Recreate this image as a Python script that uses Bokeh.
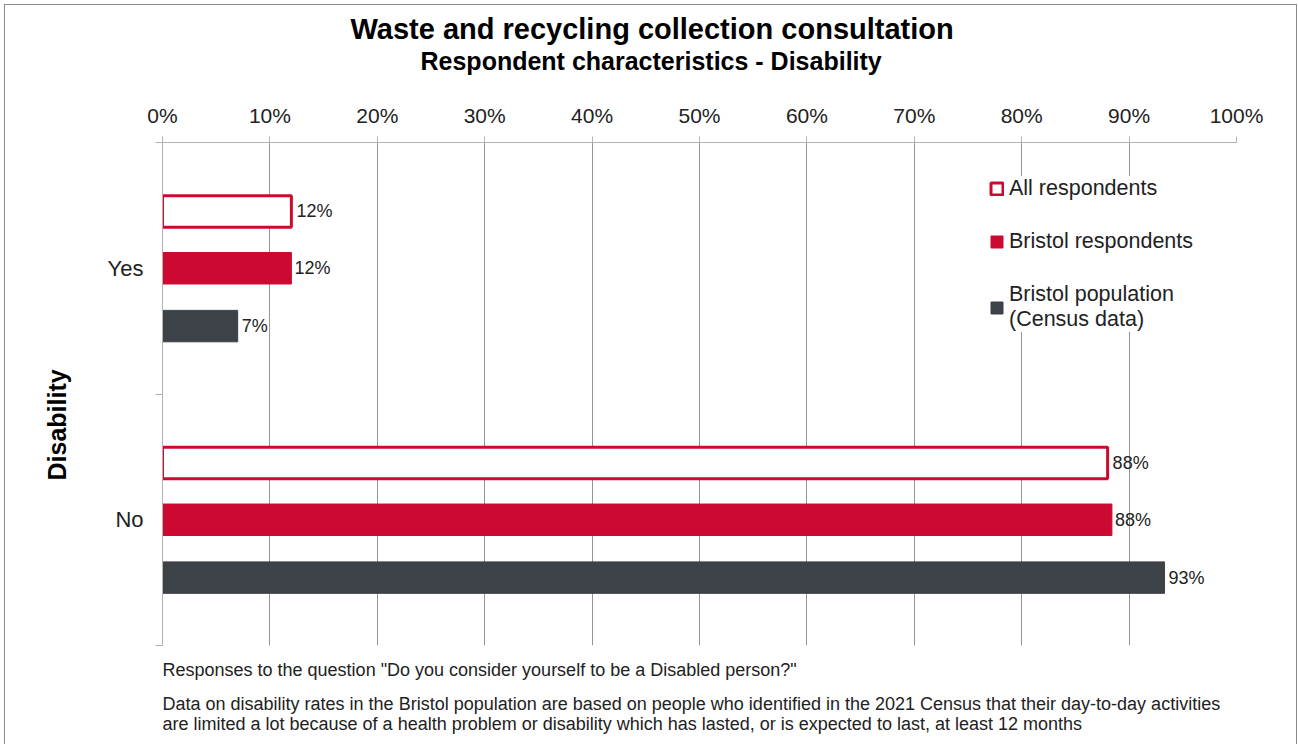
from bokeh.plotting import figure
from bokeh.models import (Range1d, FixedTicker, PrintfTickFormatter, Legend,
                          LegendItem, ColumnDataSource, Title)
from bokeh.core.properties import value
from bokeh.embed import file_html
from bokeh.resources import INLINE

# ---------------- data ----------------
categories = ["Yes", "No"]
series_names = ["All respondents", "Bristol respondents", "Bristol population\n(Census data)"]
all_respondents = [12.0, 88.0]
bristol_respondents = [12.0, 88.4]
bristol_population = [7.0, 93.3]
x_ticks = [0, 10, 20, 30, 40, 50, 60, 70, 80, 90, 100]

title = "Waste and recycling collection consultation"
subtitle = "Respondent characteristics - Disability"
axis_title = "Disability"
note1 = 'Responses to the question "Do you consider yourself to be a Disabled person?"'
note2 = ("Data on disability rates in the Bristol population are based on people who identified "
         "in the 2021 Census that their day-to-day activities")
note3 = ("are limited a lot because of a health problem or disability which has lasted, "
         "or is expected to last, at least 12 months")

RED = "#CC0A31"
DARK = "#3D4148"
AXIS = "#B3B3B3"
GRID = "#959595"
TEXT = "#222222"
FONT = "Liberation Sans"

# category centres on a numeric axis: first category at top
n = len(categories)
centers = [n - i - 0.5 for i in range(n)]
bar_h = 0.125
offsets = [0.226, 0.0, -0.23]

p = figure(width=1291, height=739, output_backend="svg", toolbar_location=None,
           x_range=Range1d(0, 100), y_range=Range1d(0, n),
           x_axis_location="above",
           min_border_left=157, min_border_right=60, min_border_top=137, min_border_bottom=99)
p.margin = (5, 2, 0, 5)
p.styles = {"outline": "1px solid #8C8C8C"}
p.outline_line_color = None
p.background_fill_color = "white"
p.border_fill_color = "white"

# x axis (top)
xa = p.xaxis[0]
xa.ticker = FixedTicker(ticks=x_ticks)
xa.formatter = PrintfTickFormatter(format="%d%%")
xa.major_label_text_font = FONT
xa.major_label_text_font_size = "21px"
xa.major_label_text_color = TEXT
xa.axis_line_color = AXIS
xa.major_tick_line_color = AXIS
xa.major_tick_out = 6
xa.major_tick_in = 0
xa.minor_tick_line_color = None
xa.major_label_standoff = 10

# y axis (left)
ya = p.yaxis[0]
ya.ticker = FixedTicker(ticks=centers, minor_ticks=[float(i) for i in range(n + 1)])
ya.major_label_overrides = {c: cat for c, cat in zip(centers, categories)}
ya.major_label_text_font = FONT
ya.major_label_text_font_size = "22px"
ya.major_label_text_color = TEXT
ya.axis_line_color = AXIS
ya.major_tick_line_color = None
ya.minor_tick_line_color = AXIS
ya.minor_tick_out = 7
ya.minor_tick_in = 0
ya.major_label_standoff = 12

p.xgrid.ticker = FixedTicker(ticks=x_ticks)
p.xgrid.grid_line_color = GRID
p.ygrid.grid_line_color = None

# bars
def ys(off):
    return [c + off for c in centers]

src_all = ColumnDataSource(dict(y=ys(offsets[0]), v=all_respondents,
                                lab=[f"{v:.0f}%" for v in all_respondents]))
src_bri = ColumnDataSource(dict(y=ys(offsets[1]), v=bristol_respondents,
                                lab=[f"{v:.0f}%" for v in bristol_respondents]))
src_pop = ColumnDataSource(dict(y=ys(offsets[2]), v=bristol_population,
                                lab=[f"{v:.0f}%" for v in bristol_population]))

r_all = p.hbar(y="y", left=0, right="v", height=bar_h, source=src_all,
               fill_color="white", line_color=RED, line_width=3)
r_bri = p.hbar(y="y", left=0, right="v", height=bar_h, source=src_bri,
               fill_color=RED, line_color=RED, line_width=1)
r_pop = p.hbar(y="y", left=0, right="v", height=bar_h, source=src_pop,
               fill_color=DARK, line_color=DARK, line_width=1)

for src, xo in ((src_all, 5), (src_bri, 3), (src_pop, 4)):
    p.text(x="v", y="y", text="lab", source=src, x_offset=xo,
           text_font=value(FONT), text_font_size="18px", text_color=TEXT,
           text_align="left", text_baseline="middle")

legend = Legend(items=[LegendItem(label=series_names[0], renderers=[r_all]),
                       LegendItem(label=series_names[1], renderers=[r_bri]),
                       LegendItem(label=series_names[2], renderers=[r_pop])],
                location=(827, 313), orientation="vertical",
                glyph_width=15, glyph_height=15, label_standoff=5,
                label_text_font=FONT, label_text_font_size="21.5px", label_text_color=TEXT,
                label_text_line_height=1.6,
                spacing=28, padding=5, margin=0,
                border_line_color=None, background_fill_color="white",
                background_fill_alpha=1.0)
p.add_layout(legend, "center")

# titles (added outward from the frame)
p.add_layout(Title(text=" ", text_font_size="2px", standoff=22), "above")
p.add_layout(Title(text=subtitle, text_font=FONT, text_font_size="25px",
                   text_font_style="bold", text_color="black", align="left",
                   offset=258, standoff=0), "above")
p.add_layout(Title(text=title, text_font=FONT, text_font_size="29px",
                   text_font_style="bold", text_color="black", align="left",
                   offset=188, standoff=0), "above")

# vertical axis title
p.add_layout(Title(text=axis_title, text_font=FONT, text_font_size="25px",
                   text_font_style="bold", text_color="black", align="left",
                   offset=165, standoff=67), "left")

# notes below
p.add_layout(Title(text=note1, text_font=FONT, text_font_size="18px",
                   text_font_style="normal", text_color=TEXT, align="left",
                   offset=0, standoff=24), "below")
p.add_layout(Title(text=note2 + "\n" + note3, text_font=FONT, text_font_size="18px",
                   text_font_style="normal", text_color=TEXT, align="left",
                   text_line_height=1.0, offset=0, standoff=0), "below")

open("out.html", "w").write(file_html(p, INLINE))
